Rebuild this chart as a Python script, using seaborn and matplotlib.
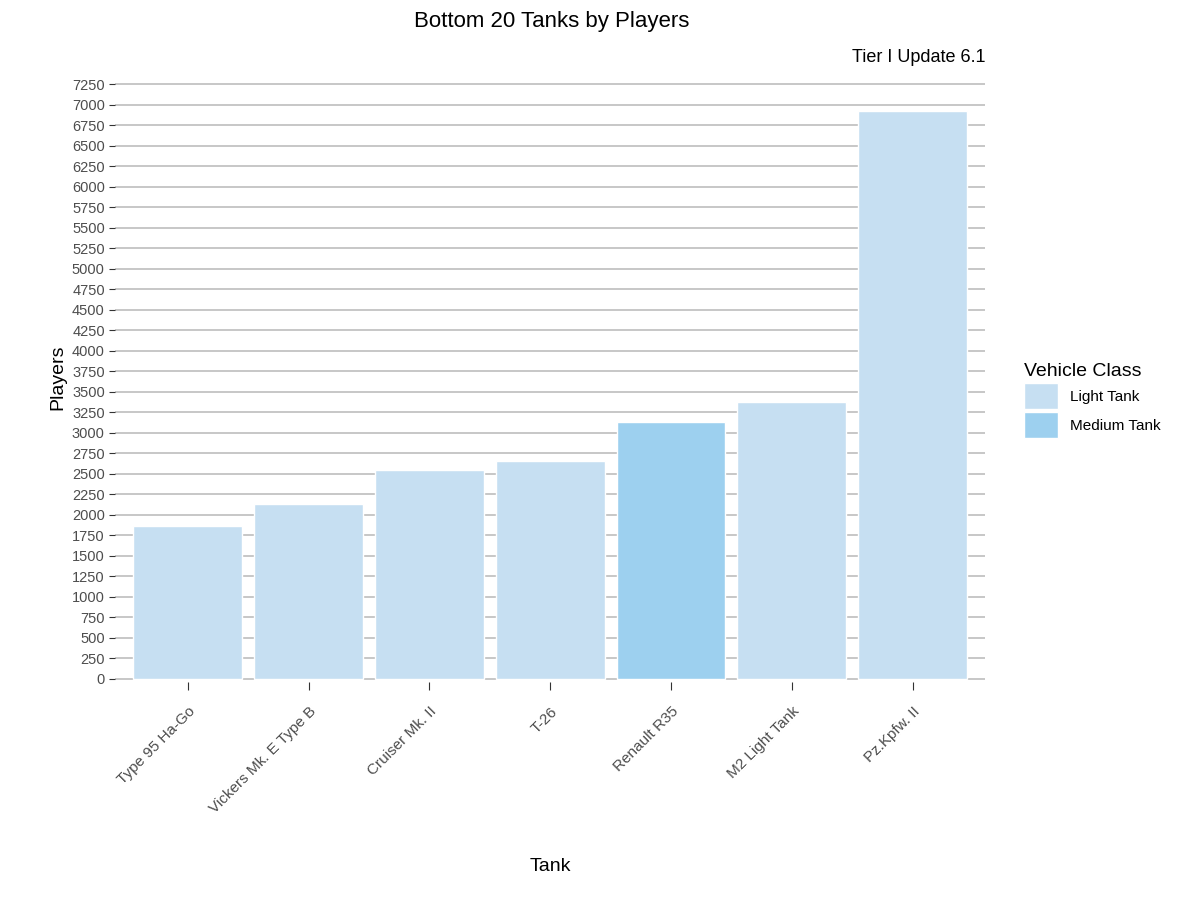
import matplotlib
matplotlib.use('Agg')
import matplotlib.pyplot as plt
import seaborn as sns
import pandas as pd
from matplotlib.patches import Patch

tanks = ['Type 95 Ha-Go', 'Vickers Mk. E Type B', 'Cruiser Mk. II', 'T-26',
         'Renault R35', 'M2 Light Tank', 'Pz.Kpfw. II']
players = [1866, 2134, 2549, 2659, 3134, 3378, 6927]
classes = ['Light Tank', 'Light Tank', 'Light Tank', 'Light Tank',
           'Medium Tank', 'Light Tank', 'Light Tank']
palette = {'Light Tank': '#C6DFF2', 'Medium Tank': '#9DD0EF'}

df = pd.DataFrame({'Tank': tanks, 'Players': players, 'Vehicle Class': classes})

sns.set_style('white')
plt.rcParams['font.family'] = ['Liberation Sans', 'DejaVu Sans']
plt.rcParams['text.color'] = 'black'
plt.rcParams['axes.labelcolor'] = 'black'

fig = plt.figure(figsize=(12, 9), dpi=100)
ax = fig.add_axes([0.096, 0.242, 0.725, 0.678])

ax.set_axisbelow(True)
ax.yaxis.grid(True, color='#BEBEBE', linewidth=1.2, zorder=0)
for i in range(len(tanks)):
    ax.axvline(i, color='white', linewidth=1.5, zorder=0.5)

sns.barplot(data=df, x='Tank', y='Players', hue='Vehicle Class', palette=palette,
            dodge=False, width=0.9, saturation=1, ax=ax, legend=False, zorder=2)

ax.set_ylim(-40, 7400)
ax.set_xlim(-0.6, len(tanks) - 0.4)
ax.set_yticks(range(0, 7251, 250))
ax.tick_params(axis='y', left=True, length=4, color='#333333', labelsize=10.5, labelcolor='#4D4D4D')
ax.tick_params(axis='x', bottom=True, length=6, pad=10, color='#333333', labelsize=11, labelcolor='#4D4D4D')
plt.setp(ax.get_xticklabels(), rotation=45, ha='right', rotation_mode='anchor')
for s in ax.spines.values():
    s.set_visible(False)

ax.set_xlabel('Tank', fontsize=14, labelpad=30)
ax.set_ylabel('Players', fontsize=14)
fig.text(0.46, 0.988, 'Bottom 20 Tanks by Players', ha='center', va='top', fontsize=16)
ax.text(1.0, 1.01, 'Tier I Update 6.1', transform=ax.transAxes, ha='right', va='bottom', fontsize=13)

handles = [Patch(facecolor=palette[c], edgecolor='white', label=c) for c in palette]
leg = fig.legend(handles=handles, title='Vehicle Class', loc='center left',
                 bbox_to_anchor=(0.842, 0.555), frameon=False, fontsize=11,
                 title_fontsize=14, handlelength=2.2, handleheight=2.2,
                 labelspacing=0.2)
leg._legend_box.align = 'left'

fig.savefig('out.png')
